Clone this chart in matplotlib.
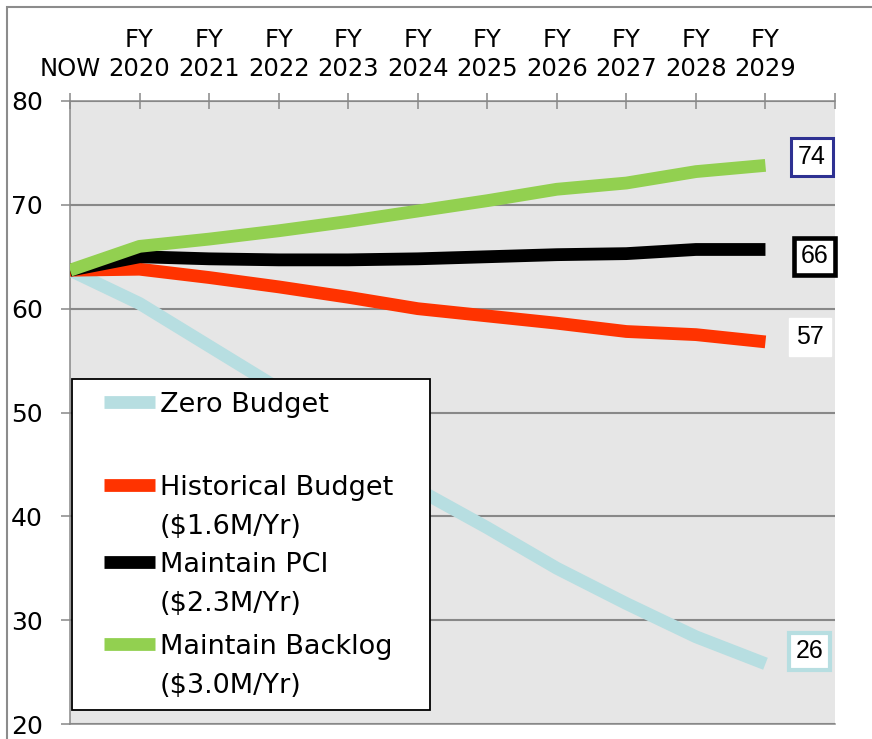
import matplotlib
matplotlib.use("Agg")
import matplotlib.pyplot as plt
from matplotlib.lines import Line2D
from matplotlib.patches import Rectangle

# Data
categories = ["NOW", "FY\n2020", "FY\n2021", "FY\n2022", "FY\n2023", "FY\n2024",
              "FY\n2025", "FY\n2026", "FY\n2027", "FY\n2028", "FY\n2029"]
zero_budget = [63.7, 60.5, 56.4, 52.3, 47.4, 42.6, 38.9, 35.0, 31.6, 28.4, 25.8]
historical = [63.7, 63.8, 63.0, 62.1, 61.1, 60.0, 59.3, 58.6, 57.8, 57.5, 56.8]
maintain_pci = [63.7, 65.0, 64.8, 64.7, 64.7, 64.8, 65.0, 65.2, 65.3, 65.7, 65.7]
maintain_backlog = [63.7, 66.0, 66.7, 67.5, 68.4, 69.4, 70.4, 71.5, 72.1, 73.2, 73.8]

series_labels = [["Zero Budget"], ["Historical Budget", "($1.6M/Yr)"],
                 ["Maintain PCI", "($2.3M/Yr)"], ["Maintain Backlog", "($3.0M/Yr)"]]
series_colors = ["#b7dee1", "#ff3300", "#000000", "#92d050"]
box_edges = ["#b7dee1", "#ffffff", "#000000", "#2e3192"]
box_widths = [3.0, 1.0, 3.3, 2.2]
label_offsets = [(31.5, 9), (32, 3.5), (35.5, -5), (33.5, 6)]

W, H = 872, 739
fig = plt.figure(figsize=(W / 100, H / 100), dpi=100)
ax = fig.add_axes([70 / W, 1 - 724 / H, (835 - 70) / W, (724 - 101) / H])
ax.set_facecolor("#e6e6e6")

grid_col = "#888888"
x = list(range(len(categories)))
all_series = [zero_budget, historical, maintain_pci, maintain_backlog]
for vals, col in zip(all_series, series_colors):
    ax.plot(x, vals, color=col, lw=9.2, solid_capstyle="butt",
            solid_joinstyle="round", zorder=3)

# data labels at the right end
for vals, ec, bw, off in zip(all_series, box_edges, box_widths, label_offsets):
    ax.annotate(f"{round(vals[-1])}", xy=(x[-1], vals[-1]), xytext=off,
                textcoords="offset points", ha="center", va="center",
                fontsize=18, family="Liberation Sans", zorder=5,
                annotation_clip=False,
                bbox=dict(boxstyle="square,pad=0.27", fc="white", ec=ec, lw=bw))

ax.set_xlim(0, 11)
ax.set_ylim(20, 80)
ax.set_yticks(range(20, 81, 10))
ax.set_xticks(range(0, 12))
ax.set_xticklabels(categories + [""])
ax.xaxis.tick_top()
ax.tick_params(axis="x", direction="inout", length=11.5, width=1.1,
               color=grid_col, pad=8.5, labelsize=17.5)
ax.tick_params(axis="y", direction="out", length=6.5, width=1.1,
               color=grid_col, pad=13, labelsize=18)
for lab in ax.get_xticklabels():
    lab.set_family("DejaVu Sans")
    lab.set_linespacing(1.3)
for lab in ax.get_yticklabels():
    lab.set_family("DejaVu Sans")

ax.yaxis.grid(True, color=grid_col, lw=1.5)
ax.set_axisbelow(True)
for side in ["left", "top", "bottom"]:
    ax.spines[side].set_color(grid_col)
    ax.spines[side].set_linewidth(1.1)
ax.spines["right"].set_visible(False)

# legend box drawn like the spreadsheet one (handle beside first text line)
def fx(px):
    return px / W

def fy(py):
    return 1 - py / H

fig.patches.append(Rectangle((fx(72), fy(710)), fx(430) - fx(72), fy(379) - fy(710),
                             transform=fig.transFigure, fc="white", ec="black",
                             lw=1.3, zorder=6))
baselines = [412, 495, 572, 654]
for lines, col, base in zip(series_labels, series_colors, baselines):
    fig.lines.append(Line2D([fx(104), fx(155)], [fy(base - 10), fy(base - 10)],
                            transform=fig.transFigure, color=col, lw=9.2,
                            solid_capstyle="butt", zorder=7))
    for i, line in enumerate(lines):
        fig.text(fx(160), fy(base + 39 * i), line, ha="left", va="baseline",
                 fontsize=19.5, family="DejaVu Sans", zorder=8)

# outer frame of the picture
fig.patches.append(Rectangle((fx(7), -0.1), 1.2, fy(7) + 0.1,
                             transform=fig.transFigure, fill=False,
                             ec="#8c8c8c", lw=1.5, zorder=0))

fig.savefig("out.png", dpi=100)
